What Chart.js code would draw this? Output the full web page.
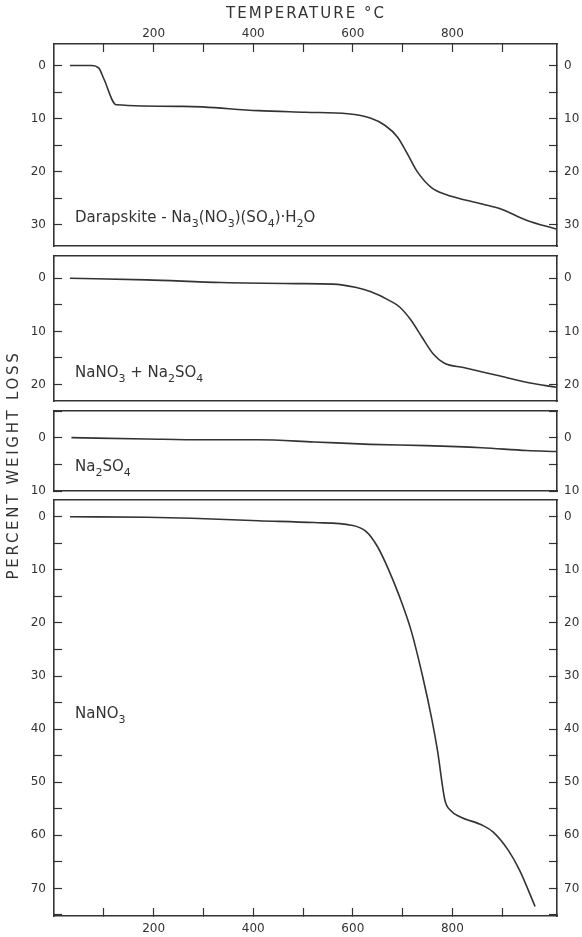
<!DOCTYPE html>
<html>
<head>
<meta charset="utf-8">
<script src="https://cdn.jsdelivr.net/npm/chart.js@4.4.1/dist/chart.umd.min.js"></script>
<style>
  body { margin: 0; background: #fff; width: 582px; height: 937px; position: relative; overflow: hidden;
         font-family: "DejaVu Sans", sans-serif; color: #333; }
  canvas { position: absolute; left: 0; }
  .lbl { position: absolute; left: 75px; font-size: 15px; line-height: 15px; white-space: nowrap; }
  .lbl sub { font-size: 11px; vertical-align: -5px; line-height: 0; }
  #xtitle { position: absolute; left: 0; width: 612px; top: 6px; text-align: center; font-size: 15px;
            line-height: 15px; letter-spacing: 2px; }
  #ytitle { position: absolute; left: -137px; top: 455px; width: 300px; height: 20px; line-height: 20px;
            text-align: center; font-size: 15px; letter-spacing: 2.7px; transform: rotate(-90deg); }
</style>
</head>
<body>
<canvas id="c1" style="top:0px" width="582" height="248"></canvas>
<canvas id="c2" style="top:254px" width="582" height="149"></canvas>
<canvas id="c3" style="top:409px" width="582" height="90"></canvas>
<canvas id="c4" style="top:498px" width="582" height="439"></canvas>

<div id="xtitle">TEMPERATURE °C</div>
<div id="ytitle">PERCENT WEIGHT LOSS</div>
<div class="lbl" style="top:210px">Darapskite - Na<sub>3</sub>(NO<sub>3</sub>)(SO<sub>4</sub>)·H<sub>2</sub>O</div>
<div class="lbl" style="top:365px">NaNO<sub>3</sub> + Na<sub>2</sub>SO<sub>4</sub></div>
<div class="lbl" style="top:459px">Na<sub>2</sub>SO<sub>4</sub></div>
<div class="lbl" style="top:706px">NaNO<sub>3</sub></div>

<script>
// temperature ticks (°C) and the ones that carry a label
const tempTicks = [100, 200, 300, 400, 500, 600, 700, 800, 900];
const tempLabels = [200, 400, 600, 800];

// Darapskite
const darapTemp = [32, 75, 90, 100, 125, 260, 410, 505, 590, 635, 665, 690, 710, 728, 758, 784, 860, 896, 950, 1008];
const darapLoss = [0, 0, 0.5, 2.5, 7.4, 7.7, 8.5, 8.8, 9.1, 9.9, 11.3, 13.5, 16.7, 19.8, 23, 24.2, 26.1, 27, 29.2, 30.8];

// NaNO3 + Na2SO4
const mixTemp = [32, 186, 336, 485, 560, 605, 635, 672, 694, 717, 739, 762, 784, 822, 896, 956, 1008];
const mixLoss = [0, 0.3, 0.8, 1.0, 1.1, 1.7, 2.5, 4.1, 5.4, 7.9, 11.1, 14.3, 16.0, 16.8, 18.4, 19.7, 20.5];

// Na2SO4
const sulfTemp = [35, 186, 298, 410, 522, 635, 747, 859, 949, 1008];
const sulfLoss = [0, 0.25, 0.4, 0.4, 0.8, 1.25, 1.5, 1.9, 2.4, 2.6];

// NaNO3
const nitrTemp = [32, 186, 276, 410, 522, 597, 627, 650, 672, 694, 717, 740, 759, 770, 785, 796, 815, 860, 882, 912, 935, 966];
const nitrLoss = [0, 0.1, 0.3, 0.75, 1.1, 1.6, 2.8, 5.7, 10, 15.1, 21.4, 30, 38.3, 44, 53.4, 55.3, 56.5, 58.1, 59.4, 62.8, 66.6, 73.4];

const ink = '#333';
const tickFont = { family: 'DejaVu Sans', size: 12 };

function points(temps, loss) {
  return temps.map((t, i) => ({ x: t, y: loss[i] }));
}

// temperature axis: inward ticks at tempTicks, labels only at tempLabels
function xAxis(position, height, showTicks) {
  return {
    type: 'linear', position: position, min: 0, max: 1010,
    afterBuildTicks: s => { s.ticks = tempTicks.map(v => ({ value: v })); },
    afterFit: s => { s.height = height; s.paddingLeft = 0; s.paddingRight = 0; },
    grid: { display: showTicks, drawOnChartArea: false, tickLength: -8, tickWidth: 1.2, tickColor: ink },
    border: { display: true, color: ink, width: 1.6 },
    ticks: {
      display: showTicks, autoSkip: false, maxRotation: 0,
      padding: position === 'top' ? 11 : 14, color: ink, font: tickFont,
      callback: v => tempLabels.includes(v) ? String(v) : ''
    }
  };
}

// weight loss axis: inward ticks every 5, labels every 10
function yAxis(position, min, max) {
  return {
    type: 'linear', position: position, min: min, max: max, reverse: true,
    afterFit: s => { s.width = position === 'left' ? 54 : 25; s.paddingTop = 0; s.paddingBottom = 0; },
    grid: { drawOnChartArea: false, tickLength: -8, tickColor: ink, tickWidth: 1.2 },
    border: { display: true, color: ink, width: 1.6 },
    ticks: {
      stepSize: 5, maxTicksLimit: 30, includeBounds: false, autoSkip: false,
      padding: position === 'left' ? 16 : 15, color: ink, font: tickFont,
      callback: v => v % 10 === 0 ? String(v) : ''
    }
  };
}

function panel(id, temps, loss, yMin, yMax, topH, bottomH, topTicks, bottomTicks) {
  return new Chart(document.getElementById(id), {
    type: 'line',
    data: {
      datasets: [{
        data: points(temps, loss),
        borderColor: ink, borderWidth: 1.6, pointRadius: 0,
        cubicInterpolationMode: 'monotone', fill: false,
        xAxisID: 'x', yAxisID: 'y'
      }]
    },
    options: {
      responsive: false, animation: false, events: [],
      layout: { padding: 0, autoPadding: false },
      plugins: { legend: { display: false }, tooltip: { enabled: false } },
      scales: {
        x: xAxis('bottom', bottomH, bottomTicks),
        x2: xAxis('top', topH, topTicks),
        y: yAxis('left', yMin, yMax),
        y2: yAxis('right', yMin, yMax)
      }
    }
  });
}

panel('c1', darapTemp, darapLoss, -4.05, 34.0, 44, 2, true, false);
panel('c2', mixTemp, mixLoss, -4.2, 23.1, 2, 2, false, false);
panel('c3', sulfTemp, sulfLoss, -5, 10, 2, 8, false, false);
panel('c4', nitrTemp, nitrLoss, -3.15, 75.2, 2, 21, false, true);
</script>
</body>
</html>
